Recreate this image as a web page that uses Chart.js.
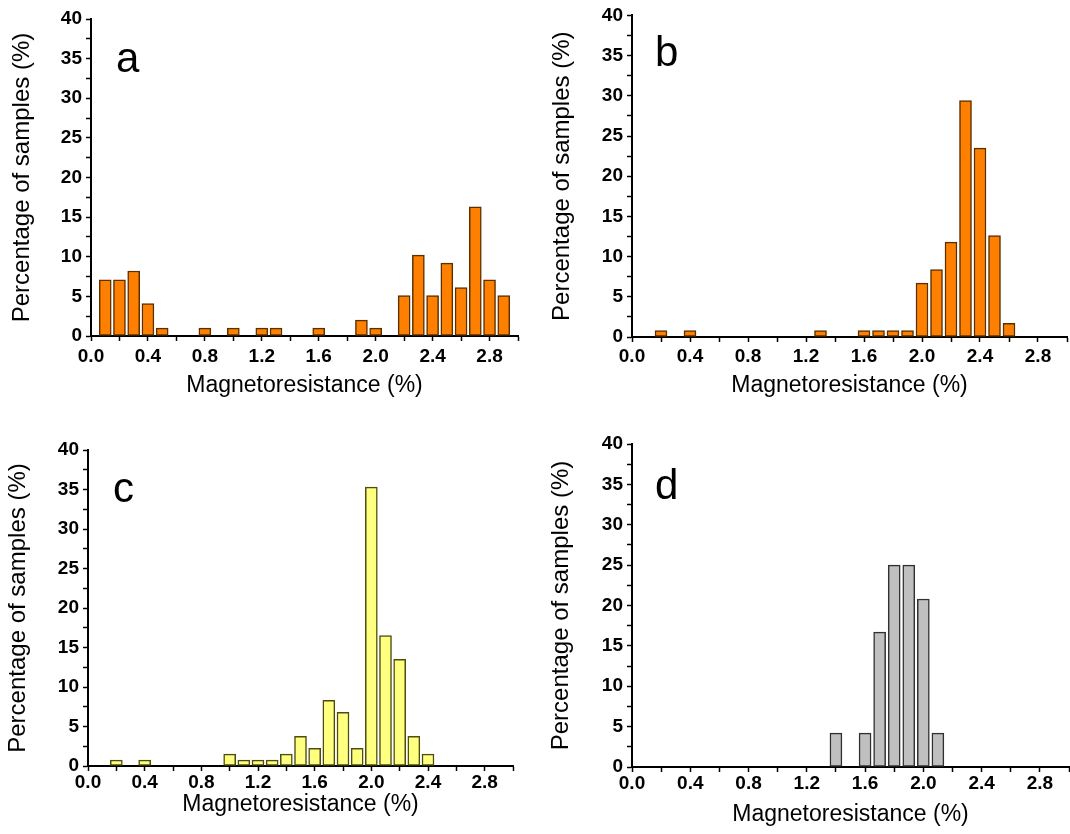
<!DOCTYPE html>
<html>
<head>
<meta charset="utf-8">
<script src="https://cdn.jsdelivr.net/npm/chart.js@4.4.1/dist/chart.umd.min.js"></script>
<style>
  html, body { margin: 0; padding: 0; background: #fff; }
  #wrap { position: relative; width: 1070px; height: 834px; overflow: hidden; }
  #wrap canvas { position: absolute; }
  .tag { position: absolute; font-family: "Liberation Sans", Arial, sans-serif; font-size: 42px; line-height: 42px; color: #000; }
</style>
</head>
<body>
<div id="wrap">
  <canvas id="chartA" width="535" height="400" style="left:0;top:0"></canvas>
  <canvas id="chartB" width="535" height="400" style="left:535px;top:0"></canvas>
  <canvas id="chartC" width="535" height="417" style="left:0;top:417px"></canvas>
  <canvas id="chartD" width="535" height="417" style="left:535px;top:417px"></canvas>
  <div class="tag" style="left:116px;top:37px">a</div>
  <div class="tag" style="left:655px;top:31px">b</div>
  <div class="tag" style="left:113px;top:467px">c</div>
  <div class="tag" style="left:655px;top:464px">d</div>
</div>
<script>
// ===== DATA (bin centres in % MR, share of samples in %) =====
const binsA = [0.1, 0.2, 0.3, 0.4, 0.5, 0.8, 1.0, 1.2, 1.3, 1.6, 1.9, 2.0, 2.2, 2.3, 2.4, 2.5, 2.6, 2.7, 2.8, 2.9];
const pctA  = [7.1, 7.1, 8.2, 4.1, 1.0, 1.0, 1.0, 1.0, 1.0, 1.0, 2.0, 1.0, 5.1, 10.2, 5.1, 9.2, 6.1, 16.3, 7.1, 5.1];

const binsB = [0.2, 0.4, 1.3, 1.6, 1.7, 1.8, 1.9, 2.0, 2.1, 2.2, 2.3, 2.4, 2.5, 2.6];
const pctB  = [0.8, 0.8, 0.8, 0.8, 0.8, 0.8, 0.8, 6.7, 8.4, 11.8, 29.4, 23.5, 12.6, 1.7];

const binsC = [0.2, 0.4, 1.0, 1.1, 1.2, 1.3, 1.4, 1.5, 1.6, 1.7, 1.8, 1.9, 2.0, 2.1, 2.2, 2.3, 2.4];
const pctC  = [0.75, 0.75, 1.5, 0.75, 0.75, 0.75, 1.5, 3.75, 2.25, 8.3, 6.8, 2.25, 35.3, 16.5, 13.5, 3.75, 1.5];

const binsD = [1.4, 1.6, 1.7, 1.8, 1.9, 2.0, 2.1];
const pctD  = [4.2, 4.2, 16.7, 25.0, 25.0, 20.8, 4.2];

const xLabel = 'Magnetoresistance (%)';
const yLabel = 'Percentage of samples (%)';

const FONT = '"Liberation Sans", Arial, sans-serif';

function makePanel(id, bins, values, look) {
  const ctx = document.getElementById(id);
  const canvasH = ctx.height, canvasW = ctx.width;
  return new Chart(ctx, {
    type: 'bar',
    data: {
      datasets: [{
        data: bins.map((b, i) => ({ x: b, y: values[i] })),
        backgroundColor: look.fill,
        borderColor: look.edge,
        borderWidth: 1.5,
        borderSkipped: false,
        barThickness: 12,
      }]
    },
    options: {
      responsive: false,
      animation: false,
      events: [],
      layout: { padding: { top: look.top, right: canvasW - look.right, left: 0, bottom: 0 } },
      plugins: { legend: { display: false }, tooltip: { enabled: false } },
      scales: {
        x: {
          type: 'linear',
          min: 0, max: 3.0,
          offset: false,
          afterFit: s => { s.height = canvasH - look.bottom; },
          border: { display: true, color: '#000', width: 2 },
          grid: { display: true, offset: false, drawOnChartArea: false, drawTicks: true, tickLength: 5, tickColor: '#000', tickWidth: 1.5 },
          ticks: {
            stepSize: 0.2, autoSkip: false, maxRotation: 0, padding: look.xPad,
            color: '#000', font: { family: FONT, size: 19, weight: 'bold' },
            callback: v => { const k = Math.round(v * 10); return k % 4 === 0 ? (k / 10).toFixed(1) : ''; }
          },
          title: { display: true, text: xLabel, color: '#000', font: { family: FONT, size: 23 }, padding: { top: 0, bottom: look.xTitlePad } }
        },
        y: {
          min: 0, max: 40,
          afterFit: s => { s.width = look.left; },
          border: { display: true, color: '#000', width: 2 },
          grid: { display: true, drawOnChartArea: false, drawTicks: true, tickLength: 5, tickColor: '#000', tickWidth: 1.5 },
          ticks: {
            stepSize: 2.5, autoSkip: false, padding: 4,
            color: '#000', font: { family: FONT, size: 19, weight: 'bold' },
            callback: v => (v % 5 === 0 ? String(v) : '')
          },
          title: { display: true, text: yLabel, color: '#000', font: { family: FONT, size: 24 }, padding: { top: look.yTitlePad, bottom: 0 } }
        }
      }
    }
  });
}

const orange = { fill: '#FF8000', edge: '#5a3000' };
const yellow = { fill: '#FFFF80', edge: '#4d4d10' };
const grey   = { fill: '#C0C0C0', edge: '#303030' };

makePanel('chartA', binsA, pctA, { ...orange, left: 91, right: 518, top: 19, bottom: 336, xPad: 4, xTitlePad: 1, yTitlePad: 8 });
makePanel('chartB', binsB, pctB, { ...orange, left: 97, right: 534, top: 13, bottom: 337, xPad: 3, xTitlePad: 1, yTitlePad: 13 });
makePanel('chartC', binsC, pctC, { ...yellow, left: 88, right: 513, top: 33, bottom: 349, xPad: 0, xTitlePad: 16, yTitlePad: 4 });
makePanel('chartD', binsD, pctD, { ...grey,   left: 97, right: 534, top: 27, bottom: 350, xPad: 0, xTitlePad: 6, yTitlePad: 12 });
</script>
</body>
</html>
